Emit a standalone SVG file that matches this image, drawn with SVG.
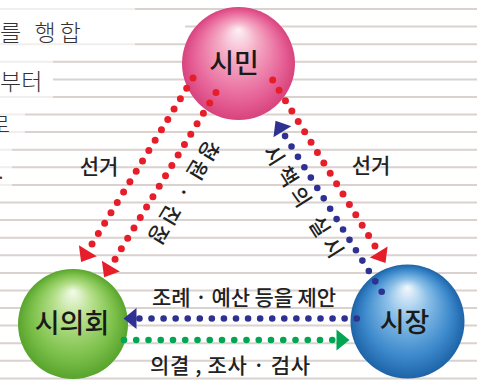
<svg xmlns="http://www.w3.org/2000/svg" xmlns:xlink="http://www.w3.org/1999/xlink" width="477" height="382" viewBox="0 0 477 382">
<style>
.ruled{stroke:#d9d2ce;stroke-width:2;fill:none}
.fade{fill:#fff;opacity:0.62}
.page{font-family:'Noto Sans CJK KR','Noto Sans',sans-serif;font-weight:300;font-size:23px;fill:#333}
.lbl{font-family:'Noto Sans CJK KR','Noto Sans',sans-serif;font-weight:500;font-size:21px;fill:#222;text-anchor:middle;dominant-baseline:central}
.node{font-family:'Noto Sans CJK KR','Noto Sans',sans-serif;font-weight:500;font-size:27px;fill:#1a1a1a;text-anchor:middle;dominant-baseline:central}
.dr{stroke:#e61e2a;stroke-width:7;stroke-linecap:round;fill:none}
.db{stroke:#2e3192;stroke-width:6.6;stroke-linecap:round;fill:none}
.dg{stroke:#00a651;stroke-width:6.6;stroke-linecap:round;fill:none}
</style>
<defs>
<radialGradient id="gPink" cx="0.5" cy="0.5" r="0.5" fx="0.5" fy="0.2">
<stop offset="0" stop-color="#fdf1f6"/><stop offset="0.35" stop-color="#f4a9c3"/><stop offset="0.75" stop-color="#e8679b"/><stop offset="1" stop-color="#d8437d"/>
</radialGradient>
<radialGradient id="gGreen" cx="0.5" cy="0.5" r="0.5" fx="0.5" fy="0.2">
<stop offset="0" stop-color="#f4fbea"/><stop offset="0.35" stop-color="#b5df8a"/><stop offset="0.75" stop-color="#7cc04a"/><stop offset="1" stop-color="#58a42d"/>
</radialGradient>
<radialGradient id="gBlue" cx="0.5" cy="0.5" r="0.5" fx="0.5" fy="0.2">
<stop offset="0" stop-color="#f3f8fd"/><stop offset="0.35" stop-color="#8cc0e8"/><stop offset="0.75" stop-color="#3d8acc"/><stop offset="1" stop-color="#1d63a8"/>
</radialGradient>
<path id="ah" d="M0,0 L-13,-10.5 L-13,10.5 Z"/>
</defs>
<rect width="477" height="382" fill="#fff"/>
<g id="background">
<path class="ruled" d="M0 9H477M0 26.6H477M0 44.2H477M0 61.8H477M0 79.4H477M0 97H477M0 114.5H477M0 132.1H477M0 149.7H477M0 167.3H477M0 184.9H477M0 202.5H477M0 220.1H477M0 237.7H477M0 255.3H477M0 272.9H477M0 290.4H477M0 308H477M0 325.6H477M0 343.2H477M0 360.8H477M0 378.4H477"/>
<rect class="fade" x="0" y="0" width="135" height="53"/>
<rect class="fade" x="0" y="53" width="53" height="53"/>
<rect class="fade" x="0" y="106" width="25" height="35"/>
<rect class="fade" x="0" y="141" width="12" height="52"/>
<rect fill="#fff" x="0" y="15" width="185" height="23"/>
<rect fill="#fff" x="0" y="67" width="53" height="25"/>
<text class="page" x="0" y="41" textLength="81" lengthAdjust="spacing">를 행합</text>
<text class="page" x="0" y="90">부터</text>
<text class="page" x="-11" y="133" font-size="21">로</text>
<text class="page" x="-2" y="179" font-size="20">.</text>
</g>
<g id="node-citizen">
<circle cx="238.5" cy="63.5" r="56.5" fill="url(#gPink)"/>
<text class="node" x="234" y="61.5">시민</text>
</g>
<g id="node-council">
<circle cx="73" cy="324" r="55" fill="url(#gGreen)"/>
<text class="node" x="72" y="321.5">시의회</text>
</g>
<g id="node-mayor">
<circle cx="407.5" cy="321.5" r="57" fill="url(#gBlue)"/>
<text class="node" x="404.5" y="320">시장</text>
</g>
<g id="connectors">
<path class="dr" d="M193 78 L92 244" stroke-dasharray="0 12.14"/>
<use xlink:href="#ah" fill="#e61e2a" transform="translate(81.1,261.9) rotate(121.3)"/>
<path class="dr" d="M216 92.5 L115 259.3" stroke-dasharray="0 12.18"/>
<use xlink:href="#ah" fill="#e61e2a" transform="translate(104.1,277.3) rotate(121.2)"/>
<path class="dr" d="M272.7 80 L375 246" stroke-dasharray="0 12.18"/>
<use xlink:href="#ah" fill="#e61e2a" transform="translate(385.5,263) rotate(58.4)"/>
<path class="db" d="M381.7 291.7 L285 136" stroke-dasharray="0 12.21"/>
<use xlink:href="#ah" fill="#2e3192" transform="translate(275.5,120.7) rotate(-121.85)"/>
<path class="db" d="M356.7 318.5 L139.3 318.5" stroke-dasharray="0 12.07"/>
<use xlink:href="#ah" fill="#2e3192" transform="translate(123.5,318.5) rotate(180)"/>
<path class="dg" d="M124 340 L332.3 340" stroke-dasharray="0 12.25"/>
<use xlink:href="#ah" fill="#00a651" transform="translate(349.5,340)"/>
<text class="lbl" x="99" y="165">선거</text>
<text class="lbl" x="371" y="164">선거</text>
<text class="lbl" font-size="22" letter-spacing="3" transform="translate(184,194) rotate(121)">청원 · 진정</text>
<text class="lbl" font-size="22" letter-spacing="5.5" transform="translate(306,203) rotate(57.5)">시책의 실시</text>
<text class="lbl" font-size="19.5" x="244" y="295.5" textLength="184" lengthAdjust="spacing">조례 · 예산 등을 제안</text>
<text class="lbl" font-size="19.5" x="230" y="363.5" textLength="160" lengthAdjust="spacing">의결 , 조사 · 검사</text>
</g>
</svg>
